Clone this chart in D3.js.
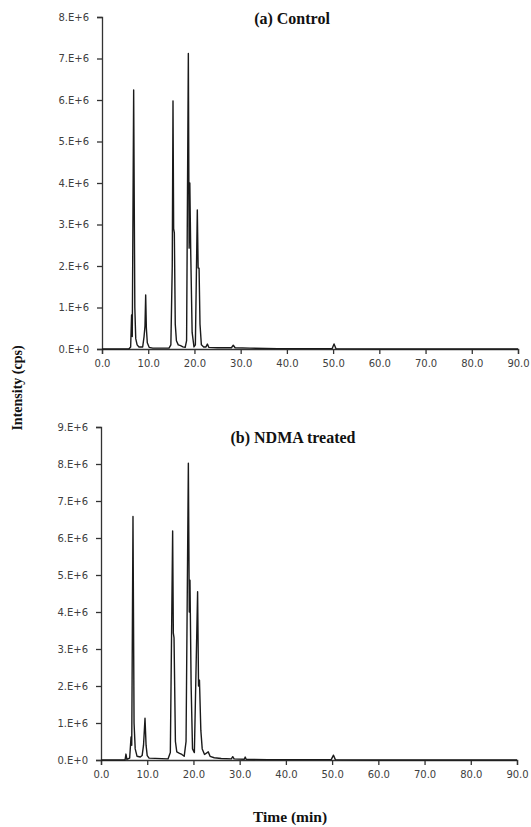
<!DOCTYPE html>
<html>
<head>
<meta charset="utf-8">
<script src="https://cdn.jsdelivr.net/npm/d3@7"></script>
<style>
	body { margin: 0; background: #fff; }
	.tick text { font-family: "DejaVu Sans", Verdana, sans-serif; font-size: 10px; fill: #404040; }
	.title { font-family: "Liberation Serif", "Times New Roman", serif; font-weight: bold; font-size: 16px; fill: #111; }
</style>
</head>
<body>
<div id="chart"></div>
<script>
// retention time (min) and intensity (x 1e6 cps)
var controlTime = [0, 5.8, 6.2, 6.4, 6.55, 6.85, 7.1, 7.3, 7.6, 8.0, 8.8, 9.1, 9.3, 9.45, 9.6, 9.8, 10.2, 11,
	14.5, 14.9, 15.2, 15.36, 15.5, 15.65, 15.85, 16.1, 16.5, 17.0, 17.5, 18.0, 18.3, 18.68, 18.85, 19.0, 19.2,
	19.5, 19.9, 20.2, 20.62, 20.8, 21.0, 21.2, 21.5, 22.0, 22.5, 22.8, 23.1, 25, 28.0, 28.4, 28.8, 32, 38,
	49.8, 50.2, 50.6, 60, 90];
var controlIntensity = [0, 0, 0.05, 0.82, 0.3, 6.24, 1.0, 0.25, 0.1, 0.05, 0.05, 0.3, 0.55, 1.3, 0.5, 0.15, 0.04, 0.02,
	0.02, 0.1, 2.0, 5.98, 2.9, 2.8, 0.6, 0.2, 0.1, 0.08, 0.05, 0.04, 0.2, 7.12, 2.43, 4.0, 2.3,
	0.4, 0.05, 0.1, 3.35, 1.95, 1.95, 0.6, 0.1, 0.05, 0.05, 0.12, 0.04, 0.03, 0.03, 0.09, 0.03, 0.02, 0.01,
	0.01, 0.12, 0.01, 0, 0];

var treatedTime = [0, 5.2, 5.4, 5.6, 6.2, 6.5, 6.65, 6.92, 7.15, 7.4, 7.8, 8.5, 8.9, 9.2, 9.52, 9.75, 10.0, 10.4,
	14.5, 15.0, 15.5, 15.65, 15.8, 16.1, 16.4, 17.0, 17.5, 18.0, 18.4, 18.9, 19.1, 19.25, 19.5, 19.8,
	20.2, 20.9, 21.1, 21.3, 21.6, 21.9, 22.4, 23.2, 23.6, 24.5, 26, 28.2, 28.5, 28.8, 31.0, 31.2, 31.4,
	36, 49.8, 50.3, 50.7, 60, 90];
var treatedIntensity = [0, 0, 0.16, 0.02, 0.05, 0.62, 0.4, 6.58, 1.0, 0.3, 0.1, 0.08, 0.12, 0.4, 1.13, 0.4, 0.12, 0.05,
	0.03, 0.2, 6.19, 3.43, 3.3, 0.5, 0.22, 0.18, 0.15, 0.1, 0.5, 8.02, 4.0, 4.86, 2.0, 0.3,
	0.2, 4.55, 2.0, 2.16, 0.8, 0.3, 0.15, 0.22, 0.1, 0.06, 0.04, 0.03, 0.09, 0.03, 0.02, 0.08, 0.02,
	0.01, 0.01, 0.13, 0.01, 0, 0];

var timeTicks = [0, 10, 20, 30, 40, 50, 60, 70, 80, 90];
var controlTicks = [0, 1, 2, 3, 4, 5, 6, 7, 8];
var treatedTicks = [0, 1, 2, 3, 4, 5, 6, 7, 8, 9];

var panels = [
	{title: "(a) Control", time: controlTime, value: controlIntensity, ticks: controlTicks,
		left: 102, right: 518, top: 17, bottom: 349, titleX: 292, titleY: 24},
	{title: "(b) NDMA treated", time: treatedTime, value: treatedIntensity, ticks: treatedTicks,
		left: 101, right: 517, top: 427, bottom: 760, titleX: 293, titleY: 443}
];

var svg = d3.select("#chart").append("svg")
	.attr("width", 531)
	.attr("height", 827);

panels.forEach(function (p) {
	var x = d3.scaleLinear().domain([0, 90]).range([p.left, p.right]);
	var y = d3.scaleLinear().domain([0, d3.max(p.ticks)]).range([p.bottom, p.top]);

	var g = svg.append("g");

	var xAxis = g.append("g")
		.attr("transform", "translate(0," + p.bottom + ")")
		.call(d3.axisBottom(x).tickValues(timeTicks).tickSize(5).tickPadding(6)
			.tickFormat(function (d) { return d3.format(".1f")(d); }));

	var yAxis = g.append("g")
		.attr("transform", "translate(" + p.left + ",0)")
		.call(d3.axisLeft(y).tickValues(p.ticks).tickSize(5).tickPadding(8)
			.tickFormat(function (d) { return d + ".E+" + (d === 0 ? 0 : 6); }));

	[xAxis, yAxis].forEach(function (a) {
		a.select(".domain").attr("stroke", "#333").attr("stroke-width", 1.3);
		a.selectAll(".tick line").attr("stroke", "#333").attr("stroke-width", 1.3);
	});

	var line = d3.line()
		.x(function (d, i) { return x(p.time[i]); })
		.y(function (d) { return y(d); });

	g.append("path")
		.datum(p.value)
		.attr("d", line)
		.attr("fill", "none")
		.attr("stroke", "#1a1a1a")
		.attr("stroke-width", 1.4)
		.attr("stroke-linejoin", "round");

	g.append("text")
		.attr("class", "title")
		.attr("x", p.titleX)
		.attr("y", p.titleY)
		.attr("text-anchor", "middle")
		.text(p.title);
});

// shared axis titles
svg.append("text")
	.attr("class", "title")
	.attr("transform", "translate(22,388) rotate(-90)")
	.attr("text-anchor", "middle")
	.style("font-size", "14px")
	.text("Intensity (cps)");

svg.append("text")
	.attr("class", "title")
	.attr("x", 290)
	.attr("y", 822)
	.attr("text-anchor", "middle")
	.style("font-size", "15.5px")
	.text("Time (min)");
</script>
</body>
</html>
